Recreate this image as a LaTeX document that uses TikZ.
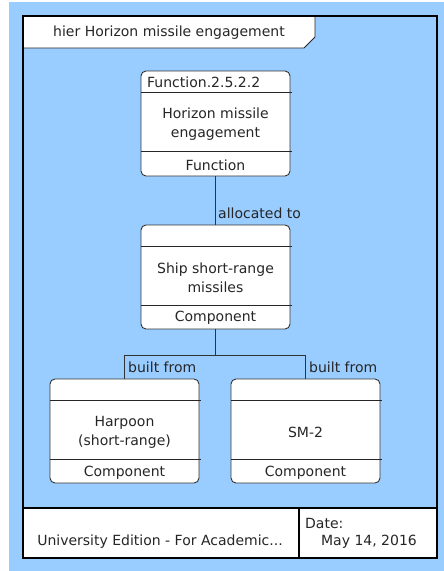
\documentclass[tikz,border=0pt]{standalone}
\usepackage{fontspec}
\setmainfont{DejaVu Sans}
\begin{document}
\begin{tikzpicture}[x=1pt,y=-1pt,
  txt/.style={font=\fontsize{14}{19}\selectfont, text=black!85, inner sep=0pt},
  box/.style={draw=black!80, fill=white, rounded corners=5pt, line width=0.9pt, minimum width=149pt, inner sep=0pt},
  sep/.style={draw=black!85, line width=0.9pt},
  conn/.style={draw=black!80, line width=1pt},
  frm/.style={draw=black, line width=2.6pt}]
\useasboundingbox (0,0) rectangle (444,571);
\definecolor{bgblue}{HTML}{99CCFF}
\fill[bgblue] (9,2) rectangle (444,571);
% footer cells
\fill[white] (23,508) rectangle (437,558);
% title tab
\draw[fill=white, draw=black!85, line width=0.9pt] (23,16) -- (315,16) -- (315,37) -- (304,48) -- (23,48);
\node[txt] (title) at (169,33) {hier Horizon missile engagement};
% frame
\draw[frm] (23,16) rectangle (437,558);
\draw[frm] (23,508) -- (437,508);
\draw[frm] (299,508) -- (299,558);
\node[txt] (uni) at (160,542) {University Edition - For Academic...};
\node[txt, anchor=west] (date) at (305,523) {Date:};
\node[txt] (datev) at (369,542) {May 14, 2016};
% nodes
\node[box, minimum height=105pt] (f) at (215.5,123.5) {};
\draw[sep] (141,92) -- (292,92);
\draw[sep] (141,151) -- (292,151);
\node[txt, anchor=west] (fid) at (147,82) {Function.2.5.2.2};
\node[txt, align=center] (fname) at (215.5,124.5) {Horizon missile\\engagement};
\node[txt] (ftype) at (215.5,165) {Function};

\node[box, minimum height=104pt] (s) at (215.5,277) {};
\draw[sep] (141,246) -- (292,246);
\draw[sep] (141,305) -- (292,305);
\node[txt, align=center] (sname) at (215.5,277.5) {Ship short-range\\missiles};
\node[txt] (stype) at (215.5,318) {Component};

\node[box, minimum height=104pt] (h) at (124.5,431) {};
\draw[sep] (50,400) -- (201,400);
\draw[sep] (50,459) -- (201,459);
\node[txt, align=center] (hname) at (124.5,432) {Harpoon\\(short-range)};
\node[txt] (htype) at (124.5,473) {Component};

\node[box, minimum height=104pt] (m) at (305.5,431) {};
\draw[sep] (231,400) -- (382,400);
\draw[sep] (231,459) -- (382,459);
\node[txt] (mname) at (305.5,432) {SM-2};
\node[txt] (mtype) at (305.5,473) {Component};
% connectors
\draw[conn] (f.south) -- (s.north);
\node[txt, anchor=west] (lab1) at (218,213) {allocated to};
\coordinate (j) at (215.5,355);
\draw[conn] (s.south) -- (j) -| (h.north);
\draw[conn] (j) -| (m.north);
\node[txt, anchor=west] (lab2) at (128,367) {built from};
\node[txt, anchor=west] (lab3) at (309,367) {built from};
\end{tikzpicture}
\end{document}
